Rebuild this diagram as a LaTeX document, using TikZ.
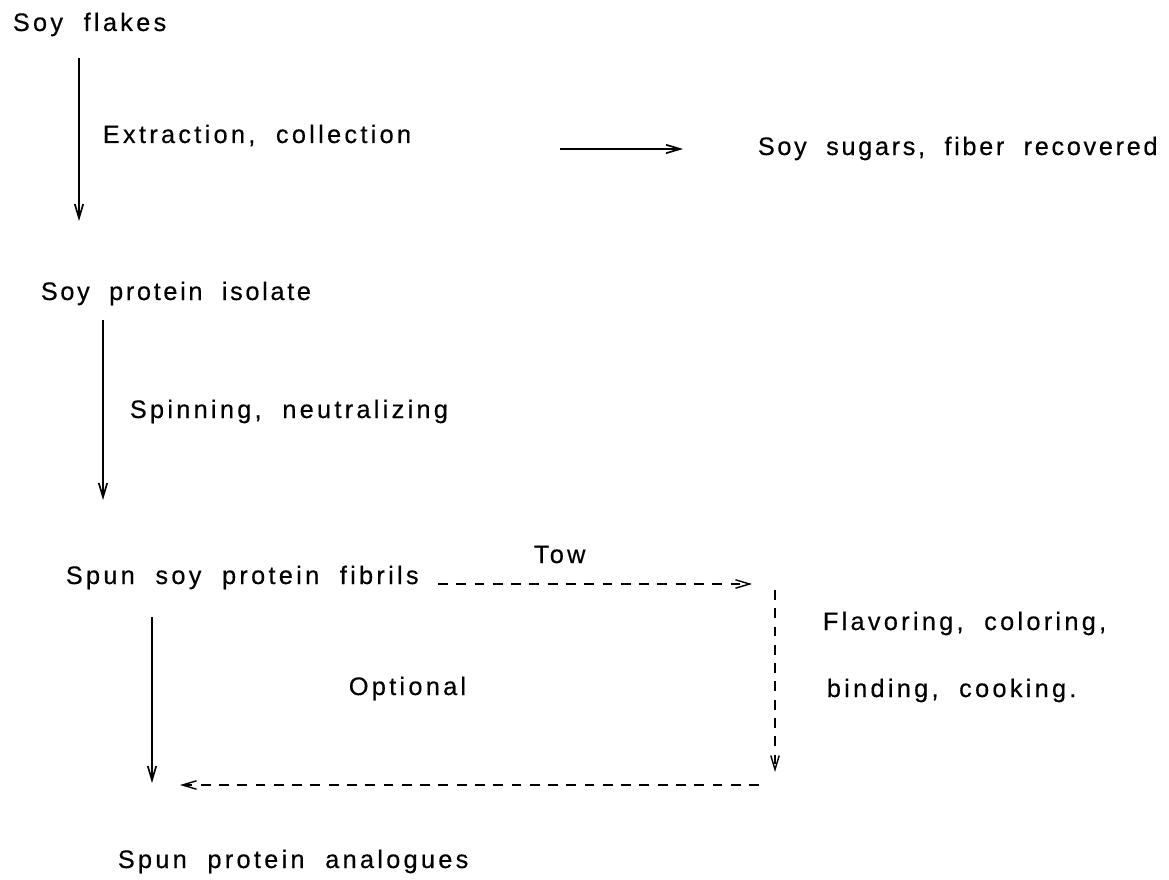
\documentclass[tikz,border=0pt]{standalone}
\usepackage{fontspec}
\setmainfont{Liberation Sans}[LetterSpace=13, WordSpace=2, FakeBold=0.4]
\usetikzlibrary{arrows.meta}

\begin{document}
\begin{tikzpicture}[x=0.025cm, y=-0.025cm,
  >={Straight Barb[length=10pt,width=6pt]},
  line width=1.2pt,
  every node/.style={anchor=base west, inner sep=0pt, font=\fontsize{18}{22}\selectfont},
  tight/.style={font=\fontsize{18}{22}\selectfont\addfontfeatures{LetterSpace=10.5}},
  tow/.style={dash pattern=on 7pt off 6pt, line width=1pt}]

\useasboundingbox (0,0) rectangle (1169,880);

% products, top to bottom
\node (flakes) at (12,31) {Soy flakes};
\node[tight] (isolate) at (40,300) {Soy protein isolate};
\node (fibrils) at (65,584) {Spun soy protein fibrils};
\node (analogues) at (117,868) {Spun protein analogues};
\node[tight] (sugars) at (757,155) {Soy sugars, fiber recovered};

% what is done on the way
\node (extract) at (102,143) {Extraction, collection};
\node (spin) at (129,418) {Spinning, neutralizing};
\node (tow) at (533,563) {Tow};
\node (optional) at (348,695) {Optional};
\node (flavor) at (822,630) {Flavoring, coloring,};
\node (bind) at (826,697) {binding, cooking.};

% arrow ends (they stop short of the text)
\coordinate (a1top) at (79,58);
\coordinate (a1bot) at (79,221);
\coordinate (sidetail) at (560,149);
\coordinate (sidehead) at (683,149);
\coordinate (a2top) at (103,320);
\coordinate (a2bot) at (103,500);
\coordinate (a3top) at (152,617);
\coordinate (a3bot) at (152,783);

\draw[->] (a1top) -- (a1bot);
\draw[->] (sidetail) -- (sidehead);
\draw[->] (a2top) -- (a2bot);
\draw[->] (a3top) -- (a3bot);

% optional loop through the tow, dashed
\coordinate (towtail) at (438,584);
\coordinate (towhead) at (752,584);
\coordinate (loopTop) at (775,590);
\coordinate (loopBot) at (775,772);
\coordinate (backtail) at (759,785);
\coordinate (backhead) at (180,785);

\draw[tow, ->] (towtail) -- (towhead);
\draw[tow, ->] (loopTop) -- (loopBot);
\draw[tow, ->] (backtail) -- (backhead);

\end{tikzpicture}
\end{document}
